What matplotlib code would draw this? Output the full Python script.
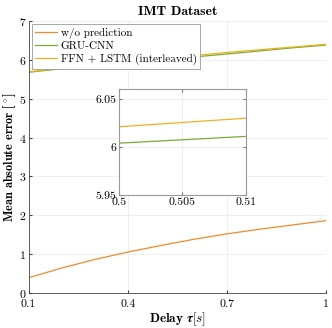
import matplotlib
matplotlib.use("Agg")
import matplotlib.pyplot as plt
from matplotlib.ticker import FormatStrFormatter

plt.rcParams['font.family'] = ['cmr10', 'DejaVu Serif']
plt.rcParams['mathtext.fontset'] = 'cm'
plt.rcParams['axes.formatter.use_mathtext'] = True

# delay values and errors
delay = [0.1, 0.2, 0.3, 0.4, 0.5, 0.6, 0.7, 0.8, 0.9, 1.0]
no_pred = [0.39, 0.64, 0.86, 1.05, 1.22, 1.38, 1.52, 1.64, 1.75, 1.86]
gru_cnn = [5.68, 5.77, 5.86, 5.935, 6.004, 6.074, 6.15, 6.23, 6.31, 6.38]
ffn_lstm = [5.69, 5.79, 5.87, 5.94, 6.021, 6.11, 6.19, 6.26, 6.33, 6.40]

c_orange = '#F28A2C'
c_green = '#77AC30'
c_yellow = '#EDB120'

fig = plt.figure(figsize=(3.32, 3.28), dpi=100)
ax = fig.add_axes([0.086, 0.107, 0.896, 0.829])

ax.plot(delay, no_pred, color=c_orange, lw=0.9, label='w/o prediction')
ax.plot(delay, gru_cnn, color=c_green, lw=0.9, label='GRU-CNN')
ax.plot(delay, ffn_lstm, color=c_yellow, lw=0.9, label='FFN + LSTM (interleaved)')

ax.set_xlim(0.1, 1)
ax.set_ylim(0, 7)
ax.set_xticks([0.1, 0.4, 0.7, 1])
ax.set_yticks(range(8))
ax.xaxis.set_major_formatter(FormatStrFormatter('%g'))
ax.grid(True, color='#ececec', lw=0.6)
ax.tick_params(direction='in', labelsize=8.5, length=2, color='#444444')
ax.tick_params(axis='x', pad=4.5)
ax.tick_params(axis='y', pad=1.5)
for s in ['top', 'right']:
    ax.spines[s].set_visible(False)
for s in ['left', 'bottom']:
    ax.spines[s].set_color('#444444')
    ax.spines[s].set_linewidth(0.6)

ax.set_title('IMT Dataset', fontfamily='cmb10', fontsize=10, pad=4)
ax.set_xlabel(r'Delay $\boldsymbol{\tau}[s]$', fontfamily='cmb10', fontsize=9.5, labelpad=1)
ax.set_ylabel(r'Mean absolute error [$^\circ$]', fontfamily='cmb10', fontsize=8.8)
ax.yaxis.set_label_coords(-0.036, 0.5)

leg = ax.legend(loc='upper left', fontsize=8, handlelength=2.0, handletextpad=0.3,
                borderpad=0.3, labelspacing=0.25, fancybox=False, framealpha=1,
                borderaxespad=0.3)
leg.get_frame().set_edgecolor('#999999')
leg.get_frame().set_linewidth(0.6)

# zoomed inset
ins = fig.add_axes([0.358, 0.405, 0.383, 0.323])
ins.plot(delay, gru_cnn, color=c_green, lw=0.9)
ins.plot(delay, ffn_lstm, color=c_yellow, lw=0.9)
ins.set_xlim(0.5, 0.51)
ins.set_ylim(5.95, 6.06)
ins.set_xticks([0.5, 0.505, 0.51])
ins.set_yticks([5.95, 6, 6.05])
ins.xaxis.set_major_formatter(FormatStrFormatter('%g'))
ins.yaxis.set_major_formatter(FormatStrFormatter('%g'))
ins.grid(True, color='#ececec', lw=0.6)
ins.tick_params(direction='in', labelsize=8.5, length=2, color='#777777', pad=2,
                top=True, right=True)
for s in ins.spines.values():
    s.set_color('#999999')
    s.set_linewidth(0.8)

fig.savefig('out.png', dpi=100)
